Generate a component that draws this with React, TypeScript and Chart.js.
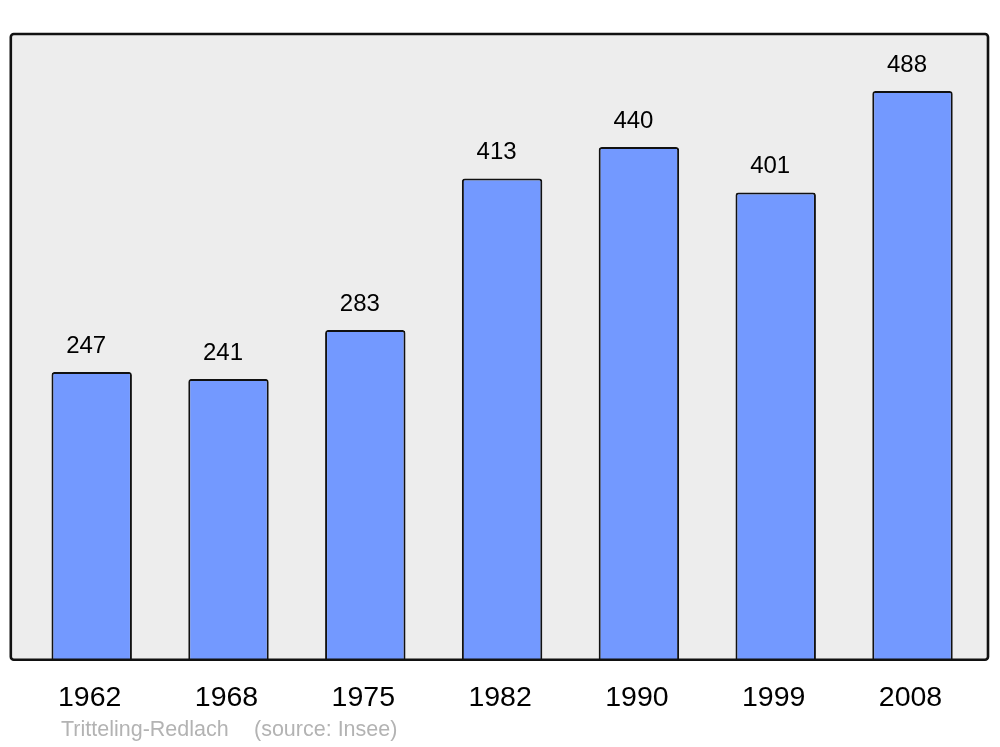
import React, { useEffect, useRef } from "react";
import { Chart, registerables } from "chart.js";

Chart.register(...registerables);

const years = ["1962", "1968", "1975", "1982", "1990", "1999", "2008"];
const population = [247, 241, 283, 413, 440, 401, 488];
const townName = "Tritteling-Redlach";
const sourceText = "(source: Insee)";

const FONT = "'Liberation Sans', Arial, sans-serif";

const framePlugin = {
  id: "frame",
  beforeDraw(chart: any) {
    const ctx = chart.ctx;
    ctx.save();
    ctx.fillStyle = "#ffffff";
    ctx.fillRect(0, 0, chart.width, chart.height);
    ctx.beginPath();
    (ctx as any).roundRect(10.8, 34, 977.2, 625.7, 3);
    ctx.fillStyle = "#ededed";
    ctx.fill();
    ctx.restore();
  },
  afterDatasetsDraw(chart: any) {
    const ctx = chart.ctx;
    ctx.save();
    ctx.beginPath();
    (ctx as any).roundRect(10.8, 34, 977.2, 625.7, 3);
    ctx.lineWidth = 2.6;
    ctx.strokeStyle = "#111111";
    ctx.stroke();

    const meta = chart.getDatasetMeta(0);
    ctx.fillStyle = "#000000";
    ctx.font = `24px ${FONT}`;
    ctx.textAlign = "center";
    ctx.textBaseline = "alphabetic";
    meta.data.forEach((bar: any, i: number) => {
      ctx.fillText(String(population[i]), bar.x - 5.5, bar.y - 19);
    });

    ctx.fillStyle = "#b3b3b3";
    ctx.font = `21.5px ${FONT}`;
    ctx.textAlign = "left";
    ctx.fillText(townName, 61, 736);
    ctx.fillText(sourceText, 254, 736);
    ctx.restore();
  },
};

export default function App() {
  const ref = useRef<HTMLCanvasElement>(null);
  useEffect(() => {
    if (!ref.current) return;
    const chart = new Chart(ref.current, {
      type: "bar",
      data: {
        labels: years,
        datasets: [
          {
            data: population,
            backgroundColor: "#7399ff",
            borderColor: "#111111",
            borderWidth: 2,
            borderRadius: 3,
            borderSkipped: "bottom",
            barPercentage: 0.588,
            categoryPercentage: 1,
          },
        ],
      },
      options: {
        animation: false,
        responsive: false,
        events: [],
        layout: { padding: { left: 23.3, right: 19.1, top: 34, bottom: 0 } },
        plugins: { legend: { display: false }, tooltip: { enabled: false } },
        scales: {
          x: {
            grid: { display: false },
            border: { display: false },
            ticks: {
              color: "#000000",
              font: { size: 28.5, family: FONT },
              padding: 13,
              labelOffset: -2,
            },
            afterFit: (scale: any) => {
              scale.height = 87.3;
            },
          },
          y: {
            display: false,
            min: 0,
            max: 537,
          },
        },
      },
      plugins: [framePlugin],
    });
    return () => chart.destroy();
  }, []);
  return (
    <div style={{ position: "fixed", left: 0, top: 0, width: 1000, height: 747 }}>
      <canvas ref={ref} width={1000} height={747} style={{ width: 1000, height: 747 }} />
    </div>
  );
}
